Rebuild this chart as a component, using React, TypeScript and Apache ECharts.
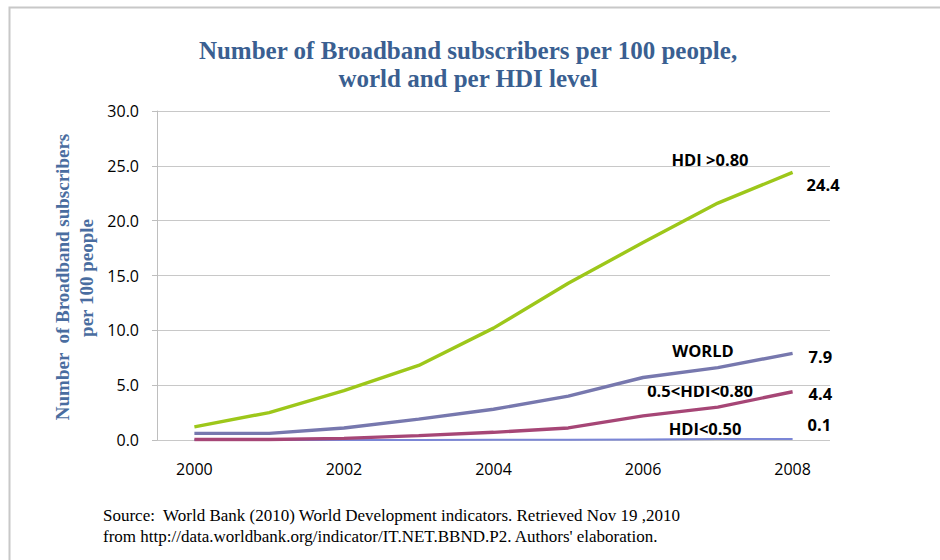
import React, { useEffect, useRef } from "react";
import * as echarts from "echarts";

const years = ["2000", "2001", "2002", "2003", "2004", "2005", "2006", "2007", "2008"];
const hdiHigh = [1.2, 2.5, 4.5, 6.8, 10.2, 14.3, 18.0, 21.6, 24.4];
const world = [0.6, 0.6, 1.1, 1.9, 2.8, 4.0, 5.7, 6.6, 7.9];
const hdiMid = [0.05, 0.05, 0.15, 0.4, 0.7, 1.1, 2.2, 3.0, 4.4];
const hdiLow = [0.0, 0.0, 0.01, 0.01, 0.02, 0.03, 0.05, 0.08, 0.1];
const yTicks = ["0.0", "5.0", "10.0", "15.0", "20.0", "25.0", "30.0"];

const titleText = "Number of Broadband subscribers per 100 people,\nworld and per HDI level";
const yName1 = "Number  of Broadband subscribers";
const yName2 = "per 100 people";
const source1 = "Source:  World Bank (2010) World Development indicators. Retrieved Nov 19 ,2010";
const source2 = "from http://data.worldbank.org/indicator/IT.NET.BBND.P2. Authors' elaboration.";

const sans = "'Open Sans', 'Liberation Sans', sans-serif";
const serif = "'Liberation Serif', 'DejaVu Serif', serif";

export default function App() {
  const ref = useRef<HTMLDivElement>(null);
  useEffect(() => {
    if (!ref.current) return;
    const chart = echarts.init(ref.current, undefined, { renderer: "svg" });
    const mk = (name: string, data: number[], color: string, width: number, offset: number[]) => ({
      name,
      type: "line",
      data,
      symbol: "none",
      lineStyle: { color, width },
      itemStyle: { color },
      endLabel: {
        show: true,
        distance: 0,
        offset,
        fontFamily: sans,
        fontWeight: "bold",
        fontSize: 16.5,
        color: "#000",
        formatter: (p: any) => Number(p.value).toFixed(1),
      },
      z: 3,
    });
    chart.setOption({
      animation: false,
      backgroundColor: "#fff",
      title: {
        text: titleText,
        left: 463,
        top: 31,
        textAlign: "center",
        textStyle: {
          fontFamily: serif,
          fontWeight: "bold",
          fontSize: 25,
          lineHeight: 28,
          color: "#3A5F91",
        },
      },
      grid: { left: 157, right: 110, top: 111, bottom: 120 },
      xAxis: {
        type: "category",
        data: years,
        boundaryGap: true,
        axisLine: { show: false },
        axisTick: { show: false },
        axisLabel: {
          interval: 1,
          margin: 21,
          fontFamily: sans,
          fontSize: 16,
          color: "#000",
        },
      },
      yAxis: {
        type: "value",
        min: 0,
        max: 30,
        interval: 5,
        axisLine: { show: true, lineStyle: { color: "#BEBEBE", width: 1 } },
        axisTick: { show: true, length: 5, lineStyle: { color: "#BEBEBE" } },
        splitLine: { show: true, lineStyle: { color: "#C8C8C8", width: 1 } },
        axisLabel: {
          margin: 18,
          fontFamily: sans,
          fontSize: 16,
          color: "#000",
          formatter: (v: number) => yTicks[Math.round(v / 5)] ?? v.toFixed(1),
        },
      },
      series: [
        mk("HDI<0.50", hdiLow, "#7B86D6", 2, [15, -14]),
        mk("0.5<HDI<0.80", hdiMid, "#A64676", 3.4, [16, 2]),
        mk("WORLD", world, "#7778AE", 3.4, [16, 3]),
        mk("HDI >0.80", hdiHigh, "#9DC71A", 3.4, [14, 12]),
      ],
      graphic: [
        {
          type: "rect",
          shape: { x: 9.5, y: 7.5, width: 1200, height: 1200 },
          style: { fill: "none", stroke: "#C8C8C8", lineWidth: 2 },
          silent: true,
        },
        {
          type: "text",
          x: 62,
          y: 277,
          rotation: Math.PI / 2,
          style: {
            text: yName1,
            fontFamily: serif,
            fontWeight: "bold",
            fontSize: 19,
            fill: "#4A6DA0",
            align: "center",
            verticalAlign: "middle",
          },
        },
        {
          type: "text",
          x: 86,
          y: 278,
          rotation: Math.PI / 2,
          style: {
            text: yName2,
            fontFamily: serif,
            fontWeight: "bold",
            fontSize: 19,
            fill: "#4A6DA0",
            align: "center",
            verticalAlign: "middle",
          },
        },
        ...[
          { t: "HDI >0.80", x: 710, y: 159 },
          { t: "WORLD", x: 703, y: 350 },
          { t: "0.5<HDI<0.80", x: 700, y: 390 },
          { t: "HDI<0.50", x: 705, y: 428 },
        ].map((a) => ({
          type: "text",
          x: a.x,
          y: a.y,
          style: {
            text: a.t,
            fontFamily: sans,
            fontWeight: "bold",
            fontSize: 16.5,
            fill: "#000",
            align: "center",
            verticalAlign: "middle",
          },
        })),
        {
          type: "text",
          x: 103,
          y: 515,
          style: {
            text: source1,
            fontFamily: serif,
            fontSize: 17,
            fill: "#000",
            align: "left",
            verticalAlign: "middle",
          },
        },
        {
          type: "text",
          x: 103,
          y: 536,
          style: {
            text: source2,
            fontFamily: serif,
            fontSize: 17,
            fill: "#000",
            align: "left",
            verticalAlign: "middle",
          },
        },
      ],
    });
    return () => chart.dispose();
  }, []);
  return <div ref={ref} style={{ width: 940, height: 560, position: "fixed", left: 0, top: 0 }} />;
}
